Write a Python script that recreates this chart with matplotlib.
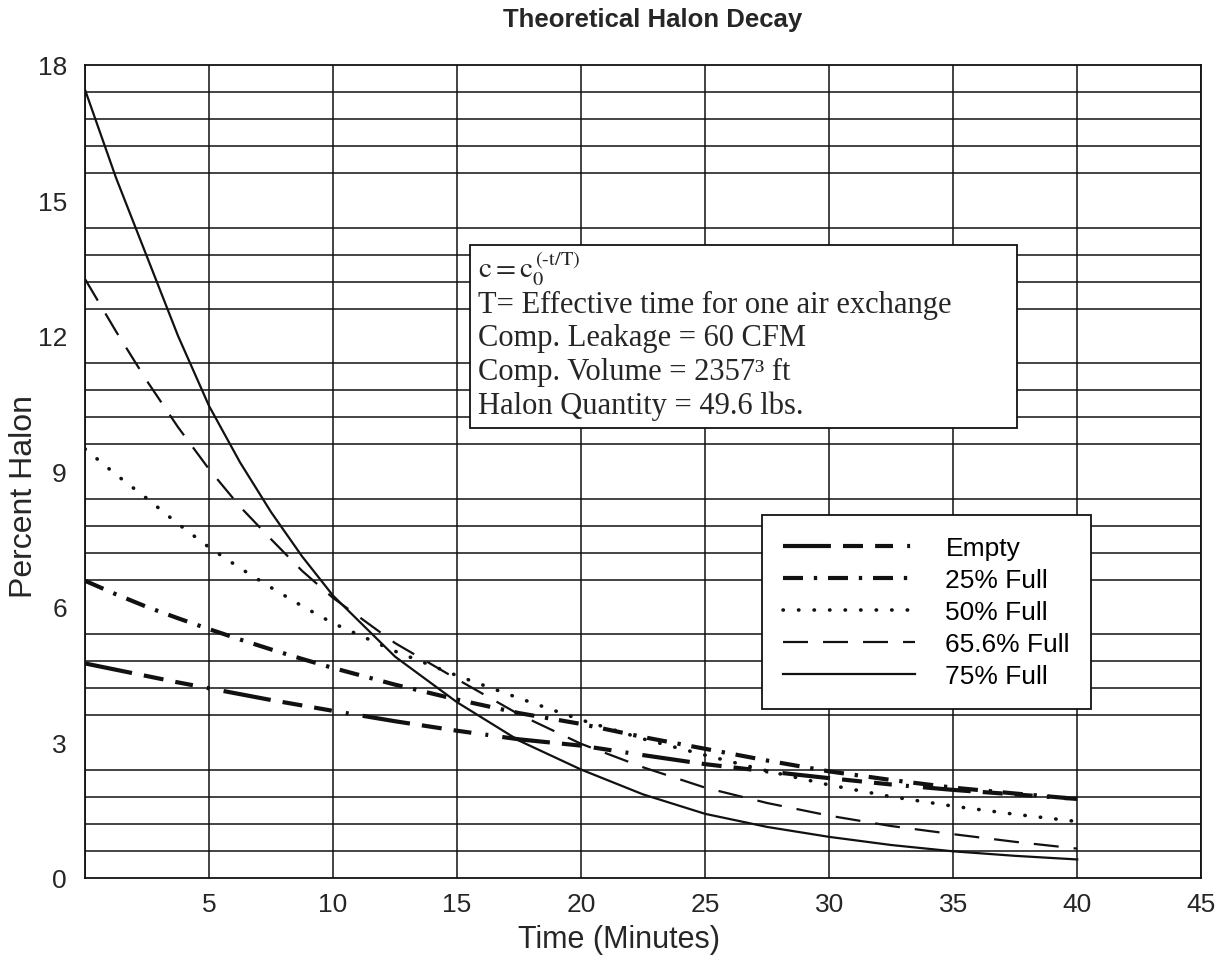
import matplotlib
matplotlib.use("Agg")
import matplotlib.pyplot as plt
import numpy as np

# Time (minutes) and percent halon
time_min = [0, 1.25, 2.5, 3.75, 5, 6.25, 7.5, 8.75, 10, 12.5, 15, 17.5, 20,
            22.5, 25, 27.5, 30, 32.5, 35, 37.5, 40]
empty = [4.75, 4.61, 4.47, 4.33, 4.2, 4.07, 3.94, 3.82, 3.7, 3.47, 3.26, 3.07, 2.93,
         2.72, 2.52, 2.36, 2.21, 2.07, 1.95, 1.85, 1.75]
full_25 = [6.58, 6.28, 6.0, 5.75, 5.51, 5.28, 5.06, 4.85, 4.65, 4.28, 3.95, 3.65, 3.41,
           3.12, 2.86, 2.6, 2.36, 2.17, 2.0, 1.87, 1.75]
full_50 = [9.5, 8.93, 8.4, 7.84, 7.32, 6.86, 6.43, 6.02, 5.64, 5.02, 4.48, 3.98, 3.5,
           3.08, 2.72, 2.37, 2.06, 1.8, 1.59, 1.41, 1.25]
full_656 = [13.26, 12.1, 11.0, 9.98, 9.05, 8.22, 7.5, 6.8, 6.2, 5.2, 4.4, 3.62, 2.97,
            2.45, 2.0, 1.66, 1.38, 1.15, 0.97, 0.8, 0.65]
full_75 = [17.45, 15.5, 13.75, 12.0, 10.45, 9.2, 8.1, 7.12, 6.25, 4.9, 3.89, 3.04, 2.4,
           1.85, 1.42, 1.13, 0.91, 0.73, 0.59, 0.49, 0.41]

labels = ["Empty", "25% Full", "50% Full", "65.6% Full", "75% Full"]
xticks = [0, 5, 10, 15, 20, 25, 30, 35, 40, 45]
xticklabels = ["", "5", "10", "15", "20", "25", "30", "35", "40", "45"]
yticks = [0, 3, 6, 9, 12, 15, 18]

info_lines = ["T= Effective time for one air exchange",
              "Comp. Leakage = 60 CFM",
              "Comp. Volume = 2357\u00b3 ft",
              "Halon Quantity = 49.6 lbs."]

plt.rcParams['font.family'] = ['Liberation Sans', 'DejaVu Sans']
plt.rcParams['mathtext.fontset'] = 'stix'

fig = plt.figure(figsize=(12.22, 9.62), dpi=100)
ax = fig.add_axes([0.0696, 0.0863, 0.9134, 0.8451])

ink = '#111111'
txt_col = '#262626'
l1, = ax.plot(time_min, empty, color=ink, lw=3.0,
              linestyle=(0, (11.5, 2.9, 4.8, 2.9, 4.3, 3.4, 0.7, 3.4)))
l2, = ax.plot(time_min, full_25, color=ink, lw=3.0,
              linestyle=(0, (4.8, 2.6, 0.8, 2.6)))
l3, = ax.plot(time_min, full_50, color=ink, lw=2.6,
              linestyle=(0, (0.1, 4.2)), dash_capstyle='round')
l4, = ax.plot(time_min, full_656, color=ink, lw=1.6,
              linestyle=(0, (11.25, 6.75)))
l5, = ax.plot(time_min, full_75, color=ink, lw=1.6)

ax.set_xlim(0, 45)
ax.set_ylim(0, 18)
ax.set_xticks(xticks)
ax.set_xticklabels(xticklabels)
ax.set_yticks(yticks)
ax.set_yticks(np.arange(0, 18.01, 0.6), minor=True)
ax.tick_params(axis='both', which='both', length=0, labelsize=19, colors=txt_col)
ax.tick_params(axis='x', pad=10)
ax.tick_params(axis='y', pad=13)
ax.grid(True, which='major', axis='x', color=ink, lw=1.1)
ax.grid(True, which='minor', axis='y', color=ink, lw=1.1)
for s in ax.spines.values():
    s.set_color(ink)
    s.set_linewidth(1.3)

ax.set_xlabel("Time (Minutes)", fontsize=22, color=txt_col)
ax.xaxis.set_label_coords(0.4785, -0.057)
ax.set_ylabel("Percent Halon", fontsize=23, color=txt_col)
ax.yaxis.set_label_coords(-0.041, 0.47)
fig.text(0.534, 0.979, "Theoretical Halon Decay", ha='center', va='center',
         fontsize=18.5, fontweight='bold', color=txt_col)

# info box
box = plt.Rectangle((0.345, 0.553), 0.49, 0.226, transform=ax.transAxes,
                    facecolor='white', edgecolor=ink, lw=1.3, zorder=5)
ax.add_patch(box)
ax.text(0.352, 0.739, r'$\mathrm{c{=}c}_{0}^{\,\mathrm{(\text{-}t/T)}}$', transform=ax.transAxes,
        fontsize=21, va='baseline', ha='left', zorder=6, color=txt_col)
ys = [0.6966, 0.655, 0.6135, 0.572]
for txt, yy in zip(info_lines, ys):
    ax.text(0.352, yy, txt, transform=ax.transAxes, fontsize=22,
            family=['Liberation Serif', 'DejaVu Serif'], va='baseline',
            ha='left', zorder=6, color=txt_col)

leg = ax.legend([l1, l2, l3, l4, l5], labels, loc='upper left',
                bbox_to_anchor=(0.6065, 0.446), fontsize=19, handlelength=5.0,
                handletextpad=1.15, labelspacing=0.3, borderpad=0.8,
                borderaxespad=0, fancybox=False, framealpha=1, edgecolor=ink)
leg.get_frame().set_linewidth(1.3)
leg.set_zorder(6)

fig.savefig("out.png", dpi=100)
